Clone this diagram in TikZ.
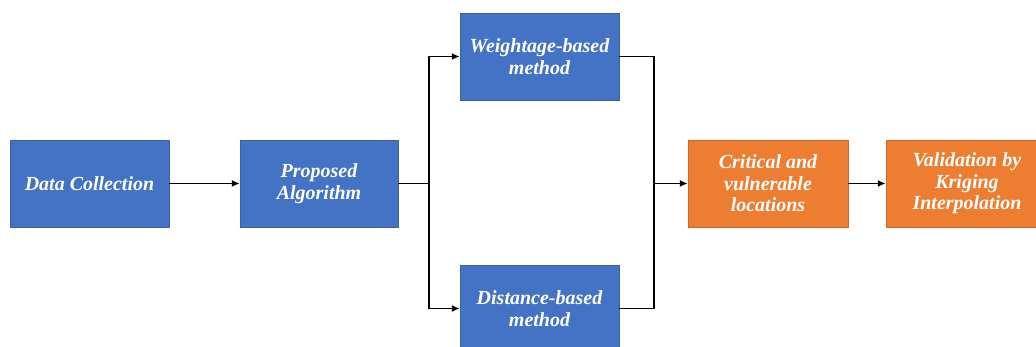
\documentclass[tikz,border=0pt]{standalone}
\usepackage{fontspec}
\setmainfont{Liberation Serif}
\usetikzlibrary{arrows.meta}
\definecolor{boxblue}{HTML}{4472C4}
\definecolor{boxorange}{HTML}{ED7D31}
\begin{document}
\begin{tikzpicture}[x=1pt,y=-1pt,
  boxbase/.style={minimum height=87pt, inner sep=2pt, align=center, text=white,
    font=\fontsize{20}{21.5}\selectfont\bfseries\itshape},
  bluebox/.style={boxbase, fill=boxblue, draw=boxblue!85!black, line width=0.4pt, minimum width=159pt},
  orangebox/.style={boxbase, fill=boxorange, draw=boxorange!85!black, line width=0.4pt},
  conn/.style={line width=1.8pt, black},
  arr/.style={conn, -{Latex[length=8pt,width=7pt]}}]
\useasboundingbox (0,0) rectangle (1036,347);
\clip (0,0) rectangle (1036,347);
\fill[white] (0,0) rectangle (1036,347);
\node[bluebox] (dc) at (89.5,183.5) {Data Collection};
\node[bluebox, minimum width=158pt] (pa) at (319,183.5) {Proposed\\Algorithm};
\node[bluebox] (wb) at (539.5,56.5) {Weightage-based\\method};
\node[bluebox] (db) at (539.5,308.5) {Distance-based\\method};
\node[orangebox, minimum width=160pt] (cv) at (768,183.5) {Critical and\\vulnerable\\locations};
\node[orangebox, minimum width=162pt] (vk) at (967,183.5) {Validation by\\Kriging\\Interpolation};
\coordinate (j1) at (429,183.5);
\coordinate (j2) at (654,183.5);
\draw[arr] (dc) -- (pa);
\draw[conn] (pa.east) -- (j1);
\draw[arr] (j1) |- (wb.west);
\draw[arr] (j1) |- (db.west);
\draw[conn] (wb.east) -| (j2);
\draw[conn] (db.east) -| (j2);
\draw[arr] (j2) -- (cv.west);
\draw[arr] (cv) -- (vk);
\end{tikzpicture}
\end{document}
